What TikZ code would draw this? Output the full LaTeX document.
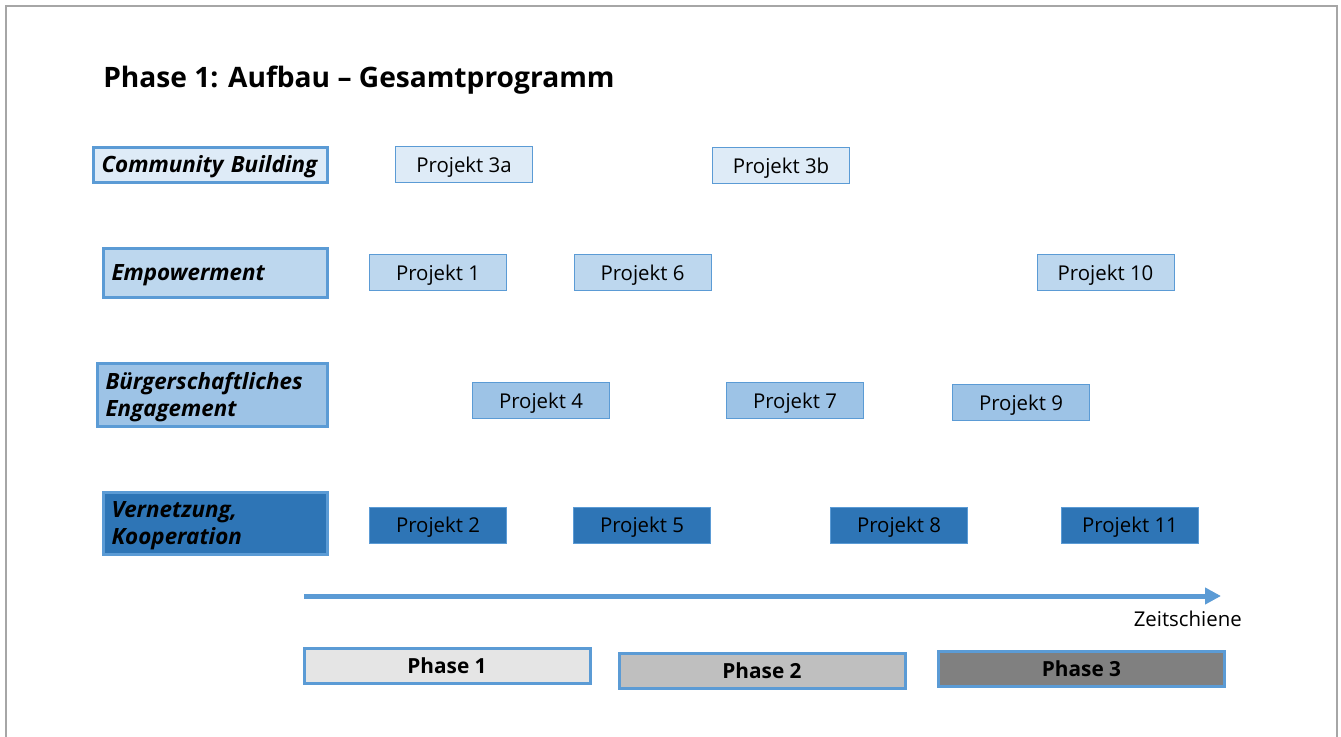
\documentclass[tikz,border=0pt]{standalone}
\usepackage{fontspec}
\setmainfont{Open Sans}
\usetikzlibrary{arrows.meta}
\definecolor{blau}{HTML}{5B9BD5}
\definecolor{hell}{HTML}{DEEBF7}
\definecolor{mittel}{HTML}{BDD7EE}
\definecolor{satt}{HTML}{9DC3E6}
\definecolor{dunkel}{HTML}{2E75B6}
\definecolor{rahmen}{HTML}{A6A6A6}

\begin{document}
\begin{tikzpicture}[x=0.75pt,y=-0.75pt,
  kat/.style={draw=blau,line width=2.25pt,inner xsep=6pt,align=left,
    text height=16pt,
    font=\fontsize{16.8}{20.25}\selectfont\bfseries\itshape},
  projekt/.style={draw=blau,line width=0.75pt,minimum width=102.75pt,
    minimum height=27pt,inner sep=0pt,text height=11pt,text depth=0pt,
    font=\fontsize{15.3}{18}\selectfont},
  phase/.style={draw=blau,line width=2.25pt,minimum width=214.5pt,
    minimum height=26.25pt,inner sep=0pt,text height=11pt,text depth=0pt,
    font=\fontsize{15.6}{18}\selectfont\bfseries}]
\useasboundingbox (0,0) rectangle (1341,737);
\draw [rahmen,line width=1.5pt] (6,737) -- (6,6) -- (1337,6) -- (1337,737);
\node [anchor=base west,inner sep=0pt,font=\fontsize{21.1}{25}\selectfont\bfseries] (titel) at (103,88) {Phase 1: Aufbau -- Gesamtprogramm};
% Handlungsfelder
\node [kat,fill=hell,minimum width=175.5pt,minimum height=26.25pt,text width=163.5pt] (cb) at (210.5,165) {Community Building};
\node [kat,fill=mittel,minimum width=168pt,minimum height=36.75pt,text width=156pt] (emp) at (215.5,273) {Empowerment};
\node [kat,fill=satt,minimum width=172.5pt,minimum height=47.25pt,text width=160.5pt] (be) at (212.5,395) {B\"urgerschaftliches\\Engagement};
\node [kat,fill=dunkel,minimum width=168pt,minimum height=46.5pt,text width=156pt] (vk) at (215.5,523.5) {Vernetzung,\\Kooperation};
% Projekte
\node [projekt,fill=hell] (p3a) at (464,165) {Projekt 3a};
\node [projekt,fill=hell] (p3b) at (781,166) {Projekt 3b};
\node [projekt,fill=mittel] (p1) at (438,273) {Projekt 1};
\node [projekt,fill=mittel] (p6) at (642.5,273) {Projekt 6};
\node [projekt,fill=mittel] (p10) at (1105.5,273) {Projekt 10};
\node [projekt,fill=satt] (p4) at (541,401) {Projekt 4};
\node [projekt,fill=satt] (p7) at (795,401) {Projekt 7};
\node [projekt,fill=satt] (p9) at (1021,403) {Projekt 9};
\node [projekt,fill=dunkel] (p2) at (438,525) {Projekt 2};
\node [projekt,fill=dunkel] (p5) at (642,525) {Projekt 5};
\node [projekt,fill=dunkel] (p8) at (899,525) {Projekt 8};
\node [projekt,fill=dunkel] (p11) at (1130,525) {Projekt 11};
% Zeitschiene
\coordinate (start) at (304,596);
\coordinate (ende) at (1221,596);
\draw [blau,line width=3.75pt,-{Triangle[length=12pt,width=12pt]}] (start) -- (ende);
\node [anchor=east,inner sep=0pt,font=\fontsize{15.3}{18}\selectfont] (zeit) at (1242,619) {Zeitschiene};
\node [phase,fill=black!10] (ph1) at (447,666) {Phase 1};
\node [phase,fill=black!25] (ph2) at (762,671) {Phase 2};
\node [phase,fill=black!50] (ph3) at (1081.5,669) {Phase 3};
\end{tikzpicture}
\end{document}
